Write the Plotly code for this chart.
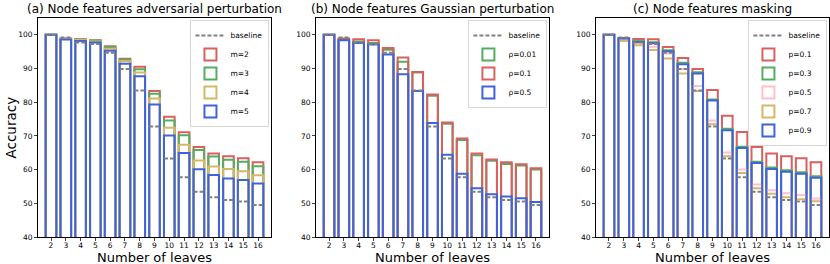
import plotly.graph_objects as go

leaves = [2, 3, 4, 5, 6, 7, 8, 9, 10, 11, 12, 13, 14, 15, 16]

baseline = [100, 99.2, 97.7, 97.3, 94.7, 89.9, 83.5, 72.8, 63.3, 57.7, 53.4, 51.8, 51.0, 50.5, 49.5]

# (a) adversarial perturbation
adv_m2 = [100, 98.9, 98.7, 98.4, 96.6, 92.9, 90.5, 83.3, 75.7, 71.1, 66.7, 64.8, 64.0, 63.4, 62.2]
adv_m3 = [100, 98.8, 98.6, 98.3, 96.3, 92.6, 89.8, 82.5, 74.6, 70.2, 65.8, 63.9, 62.9, 62.3, 61.0]
adv_m4 = [100, 98.8, 98.5, 98.0, 95.9, 92.2, 88.8, 81.1, 72.4, 67.4, 62.7, 60.9, 60.2, 59.5, 58.3]
adv_m5 = [100, 98.6, 98.2, 97.7, 95.3, 91.4, 87.7, 79.3, 70.1, 64.9, 60.1, 58.4, 57.4, 56.9, 55.9]

# (b) Gaussian perturbation
gau_001 = [100, 98.6, 98.0, 97.6, 95.6, 92.0, 88.8, 81.9, 73.6, 68.8, 64.3, 62.6, 61.7, 61.2, 60.0]
gau_01 = [100, 98.9, 98.7, 98.4, 96.1, 93.3, 89.0, 82.3, 74.0, 69.2, 64.8, 63.0, 62.2, 61.6, 60.4]
gau_05 = [100, 98.4, 97.6, 97.1, 94.2, 88.3, 83.3, 73.8, 64.4, 58.8, 54.5, 52.7, 52.0, 51.5, 50.4]

# (c) masking
mask_01 = [100, 99.1, 98.8, 98.7, 96.4, 93.1, 89.9, 83.6, 76.0, 71.2, 66.7, 64.8, 64.0, 63.4, 62.2]
mask_03 = [100, 99.0, 98.2, 97.8, 95.4, 91.7, 88.9, 80.8, 72.1, 66.8, 62.3, 60.6, 59.8, 59.2, 58.0]
mask_05 = [100, 98.6, 97.5, 96.5, 94.5, 89.9, 84.8, 74.6, 65.1, 60.0, 55.6, 53.9, 53.0, 52.5, 51.4]
mask_07 = [100, 98.2, 96.9, 95.5, 93.0, 88.5, 83.3, 73.5, 64.0, 59.0, 54.5, 52.8, 51.8, 51.2, 50.6]
mask_09 = [100, 98.9, 97.9, 97.5, 95.1, 91.3, 88.5, 80.5, 71.7, 66.4, 62.0, 60.2, 59.4, 58.8, 57.6]

titles = ["(a) Node features adversarial perturbation",
          "(b) Node features Gaussian perturbation",
          "(c) Node features masking"]
x_title = "Number of leaves"
y_title = "Accuracy"
y_ticks = [40, 50, 60, 70, 80, 90, 100]

RED = "#d9605f"
GREEN = "#55ad62"
TAN = "#d4b86a"
BLUE = "#3f63dc"
PINK = "#ffc0cb"
GRAY = "#808080"

panels = [
    [("m=2", adv_m2, RED), ("m=3", adv_m3, GREEN), ("m=4", adv_m4, TAN), ("m=5", adv_m5, BLUE)],
    [("ρ=0.01", gau_001, GREEN), ("ρ=0.1", gau_01, RED), ("ρ=0.5", gau_05, BLUE)],
    [("p=0.1", mask_01, RED), ("p=0.3", mask_03, GREEN), ("p=0.5", mask_05, PINK),
     ("p=0.7", mask_07, TAN), ("p=0.9", mask_09, BLUE)],
]

BAR_W = 0.72
FONT = "DejaVu Sans"

fig = go.Figure()
domains = [[0.0, 0.2946], [0.3515, 0.646], [0.7054, 1.0]]
legend_names = ["legend", "legend2", "legend3"]

for i, series in enumerate(panels):
    xa = "x" if i == 0 else f"x{i+1}"
    ya = "y" if i == 0 else f"y{i+1}"
    lg = legend_names[i]
    # baseline dashed bar tops
    bx, by = [], []
    for xv, yv in zip(leaves, baseline):
        bx += [xv - BAR_W / 2, xv + BAR_W / 2, None]
        by += [yv, yv, None]
    fig.add_trace(go.Scatter(x=bx, y=by, mode="lines", name="baseline",
                             line=dict(color=GRAY, width=2, dash="4px,2px"),
                             xaxis=xa, yaxis=ya, legend=lg, hoverinfo="skip"))
    for name, vals, col in series:
        fig.add_trace(go.Bar(x=leaves, y=vals, name=name, width=BAR_W,
                             marker=dict(color="rgba(0,0,0,0)", line=dict(color=col, width=2)),
                             xaxis=xa, yaxis=ya, legend=lg))

layout = dict(
    width=830, height=264, barmode="overlay",
    margin=dict(l=38, r=1, t=18, b=27),
    paper_bgcolor="white", plot_bgcolor="white",
    font=dict(family=FONT, size=8, color="black"),
    showlegend=True,
)
annotations = []
for i in range(3):
    xk = "xaxis" if i == 0 else f"xaxis{i+1}"
    yk = "yaxis" if i == 0 else f"yaxis{i+1}"
    ya_ref = "y" if i == 0 else f"y{i+1}"
    xa_ref = "x" if i == 0 else f"x{i+1}"
    layout[xk] = dict(domain=domains[i], anchor=ya_ref, range=[1.12, 16.88],
                      tickmode="array", tickvals=leaves, ticktext=[str(v) for v in leaves],
                      ticks="outside", ticklen=3, tickwidth=0.8, tickfont=dict(size=7.5),
                      ticklabelstandoff=-2,
                      showline=True, linecolor="black", linewidth=0.8, mirror=True,
                      showgrid=False, zeroline=False)
    layout[yk] = dict(domain=[0, 1], anchor=xa_ref, range=[40, 105],
                      tickmode="array", tickvals=y_ticks,
                      ticks="outside", ticklen=3, tickwidth=0.8, tickfont=dict(size=7.5),
                      showline=True, linecolor="black", linewidth=0.8, mirror=True,
                      showgrid=False, zeroline=False)
    d = domains[i]
    layout[legend_names[i]] = dict(x=d[1] - 0.003, y=0.99, xanchor="right", yanchor="top",
                                   bgcolor="white", bordercolor="#cccccc", borderwidth=0.8,
                                   font=dict(size=7.5), itemwidth=30, tracegroupgap=0)
    annotations.append(dict(text=titles[i], x=(d[0] + d[1]) / 2, y=1, xref="paper", yref="paper",
                            xanchor="center", yanchor="bottom", showarrow=False,
                            font=dict(size=12, family=FONT)))
    annotations.append(dict(text=x_title, x=(d[0] + d[1]) / 2, y=0, xref="paper", yref="paper",
                            xanchor="center", yanchor="top", yshift=-11, showarrow=False,
                            font=dict(size=13, family=FONT)))
annotations.append(dict(text=y_title, x=0, y=0.5, xref="paper", yref="paper", textangle=-90,
                        xanchor="center", yanchor="middle", xshift=-28, showarrow=False,
                        font=dict(size=13.5, family=FONT)))
layout["annotations"] = annotations

fig.update_layout(**layout)
fig.write_html("out.html", config={"displayModeBar": False},
               post_script="document.body.style.margin='0';document.body.style.padding='0';")
